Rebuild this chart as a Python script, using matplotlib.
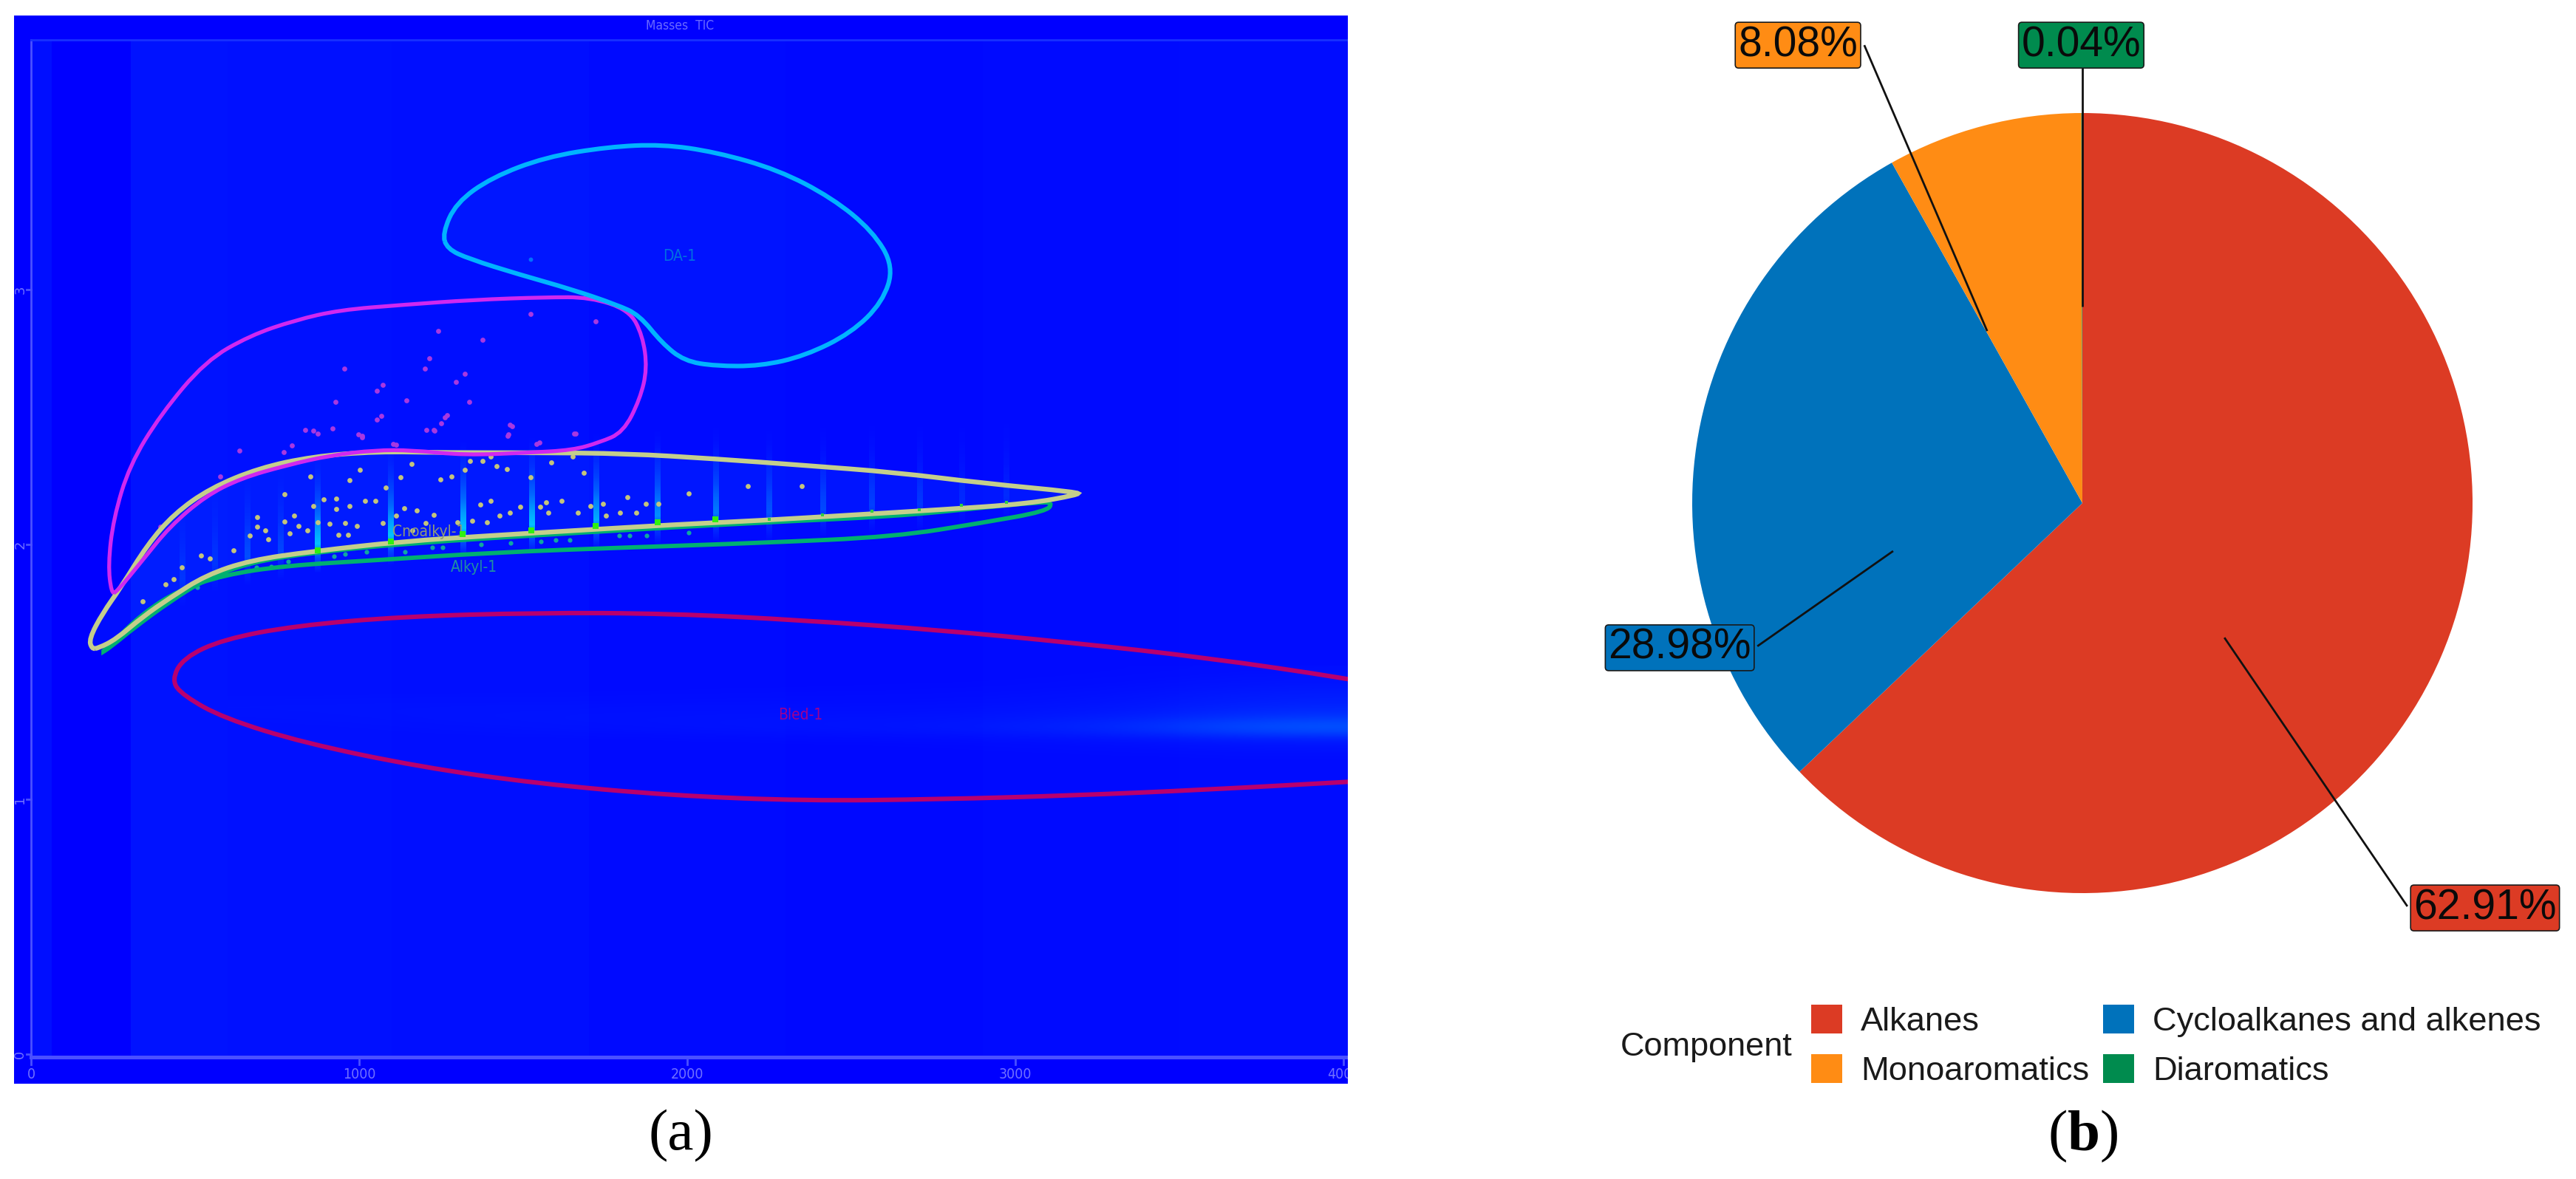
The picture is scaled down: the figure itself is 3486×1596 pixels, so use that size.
import numpy as np
import matplotlib
matplotlib.use('Agg')
import matplotlib.pyplot as plt
from matplotlib.colors import LinearSegmentedColormap
from matplotlib.patches import Patch, PathPatch
from matplotlib.path import Path

plt.rcParams['mathtext.fontset'] = 'custom'
plt.rcParams['mathtext.rm'] = 'Liberation Serif'
plt.rcParams['mathtext.bf'] = 'Liberation Serif:bold'

W, H = 3486, 1596

# panel a: 2D chromatogram, x = 1st dimension, y = 2nd dimension
x_ticks = [0, 1000, 2000, 3000, 4000]
y_ticks = [0, 1, 2, 3]

bg_edges = [-52, 0, 62, 305, 600, 1100, 1700, 2300, 2900, 3500, 4014]
bg_green = [0, 14, 0, 18, 16, 14, 10, 8, 10, 12]

da_x = [1254, 1295, 1404, 1568, 1759, 1923, 2086, 2277, 2441, 2565, 2630, 2595, 2500, 2359, 2223, 2086, 1991, 1923, 1854, 1786, 1650, 1486, 1336, 1268]
da_y = [3.22, 3.34, 3.44, 3.52, 3.56, 3.57, 3.54, 3.47, 3.36, 3.23, 3.09, 2.95, 2.83, 2.74, 2.70, 2.70, 2.72, 2.79, 2.90, 2.94, 3.00, 3.06, 3.12, 3.16]

cyclo_x = [245, 235, 251, 300, 395, 532, 668, 805, 941, 1132, 1350, 1568, 1704, 1823, 1864, 1878, 1856, 1805, 1732, 1650, 1513, 1323, 1159, 1050, 914, 777, 641, 532, 423, 341, 259]
cyclo_y = [1.81, 1.92, 2.10, 2.31, 2.51, 2.72, 2.82, 2.88, 2.92, 2.94, 2.96, 2.97, 2.97, 2.92, 2.82, 2.69, 2.57, 2.44, 2.40, 2.37, 2.36, 2.35, 2.37, 2.37, 2.35, 2.31, 2.26, 2.19, 2.07, 1.94, 1.81]

alk_x = [185, 177, 218, 273, 355, 436, 545, 695, 859, 1050, 1268, 1541, 1813, 2086, 2359, 2632, 2904, 3191, 3191, 3041, 2768, 2495, 2223, 1950, 1677, 1404, 1132, 859, 668, 532, 423, 341, 259, 205]
alk_y = [1.59, 1.63, 1.73, 1.83, 2.00, 2.12, 2.22, 2.30, 2.345, 2.365, 2.36, 2.36, 2.357, 2.336, 2.31, 2.283, 2.24, 2.205, 2.195, 2.16, 2.136, 2.115, 2.094, 2.077, 2.056, 2.035, 2.012, 1.973, 1.938, 1.879, 1.79, 1.717, 1.628, 1.593]

mono_x = [210, 245, 341, 450, 586, 777, 1050, 1404, 1813, 2223, 2632, 2904, 3095, 3114, 3068, 2904, 2632, 2223, 1677, 1132, 859, 668, 532, 423, 314, 245]
mono_y = [1.57, 1.61, 1.73, 1.82, 1.88, 1.917, 1.938, 1.968, 1.988, 2.006, 2.03, 2.086, 2.13, 2.165, 2.165, 2.145, 2.11, 2.086, 2.047, 2.003, 1.968, 1.93, 1.864, 1.776, 1.673, 1.60]

bleed_x = [428, 464, 586, 805, 1132, 1541, 1950, 2359, 2768, 3177, 3586, 4009, 4404, 4404, 4009, 3586, 3177, 2768, 2359, 1950, 1541, 1186, 832, 586, 464]
bleed_y = [1.466, 1.555, 1.628, 1.681, 1.717, 1.732, 1.729, 1.702, 1.664, 1.614, 1.555, 1.475, 1.386, 1.097, 1.068, 1.038, 1.015, 1.0, 0.994, 1.015, 1.062, 1.127, 1.221, 1.319, 1.407]

alk_dot_x = [772, 851, 892, 931, 970, 1002, 970, 931, 860, 1019, 1050, 1082, 1125, 1161, 1137, 1176, 1247, 1282, 1321, 1338, 1376, 1402, 1418, 1450, 1370, 1402, 1522, 1585, 1651, 1684, 1570, 1618, 1818, 1873, 1912, 2005, 1744, 1705, 690, 690, 772, 666, 714, 724, 618, 518, 546, 460, 434, 411, 341, 802, 815, 789, 843, 873, 909, 957, 993, 937, 967, 1073, 1228, 1344, 1389, 1428, 1460, 1492, 1551, 1576, 1667, 1796, 1844, 1753, 1112, 1163, 1202, 1299, 2184, 2350]
alk_dot_y = [2.196, 2.266, 2.176, 2.181, 2.251, 2.292, 2.151, 2.139, 2.151, 2.171, 2.171, 2.223, 2.264, 2.315, 2.142, 2.132, 2.254, 2.266, 2.292, 2.328, 2.328, 2.344, 2.308, 2.296, 2.156, 2.171, 2.264, 2.323, 2.344, 2.282, 2.166, 2.171, 2.186, 2.158, 2.158, 2.200, 2.158, 2.151, 2.107, 2.070, 2.090, 2.034, 2.056, 2.019, 1.978, 1.956, 1.946, 1.910, 1.863, 1.843, 1.777, 2.112, 2.073, 2.044, 2.054, 2.088, 2.080, 2.083, 2.073, 2.039, 2.039, 2.083, 2.117, 2.093, 2.086, 2.112, 2.125, 2.147, 2.147, 2.125, 2.125, 2.125, 2.125, 2.112, 2.112, 2.054, 2.083, 2.088, 2.23, 2.23]

mono_dot_x = [923, 958, 1023, 1139, 1223, 1255, 1372, 1462, 1553, 1598, 1643, 1792, 1824, 1876, 2005, 687, 732, 784, 577, 506, 454]
mono_dot_y = [1.953, 1.962, 1.972, 1.972, 1.987, 1.987, 2.001, 2.006, 2.011, 2.016, 2.016, 2.035, 2.035, 2.035, 2.045, 1.909, 1.914, 1.933, 1.875, 1.832, 1.808]

cyclo_dot_x = [1522, 1721, 1241, 1377, 954, 1200, 1323, 1213, 1295, 1072, 1055, 927, 1145, 1336, 1262, 1227, 1459, 1453, 1655, 1009, 1104, 395, 1541, 835, 861, 874, 997, 1010, 1055, 1068, 1204, 1230, 1249, 1268, 1456, 1466, 1550, 1660, 919, 635, 577, 796, 771, 1113]
cyclo_dot_y = [2.903, 2.876, 2.838, 2.802, 2.690, 2.690, 2.670, 2.729, 2.637, 2.625, 2.602, 2.558, 2.566, 2.558, 2.499, 2.448, 2.469, 2.425, 2.434, 2.425, 2.395, 2.071, 2.395, 2.450, 2.445, 2.436, 2.431, 2.421, 2.489, 2.503, 2.450, 2.445, 2.474, 2.508, 2.431, 2.465, 2.399, 2.436, 2.455, 2.368, 2.267, 2.387, 2.363, 2.392]

peak_x = [460, 560, 660, 760, 873, 1096, 1316, 1525, 1721, 1909, 2086, 2250, 2413, 2563, 2708, 2836, 2972]
peak_y = [1.84, 1.90, 1.93, 1.95, 1.977, 2.011, 2.040, 2.054, 2.072, 2.088, 2.10, 2.10, 2.115, 2.13, 2.135, 2.153, 2.165]
peak_level = [0.15, 0.15, 0.3, 0.25, 0.9, 0.9, 0.9, 0.9, 0.8, 0.65, 0.55, 0.35, 0.3, 0.25, 0.2, 0.12, 0.12]
# streak brightness from 0.12 below the peak to 0.4 above it
streak_profile = [[0.0], [0.35], [1.0], [0.8], [0.5], [0.3], [0.15], [0.05], [0.0]][::-1]

bleed_cols = [600, 1200, 1800, 2400, 2800, 3200, 3600, 4014]
bleed_rows = [1.525, 1.125]
bleed_alpha = [
    [0, 0, 0, 0, 0, 0, .01, .03],
    [0, 0, 0, 0, .01, .01, .03, .08],
    [0, .01, .01, .02, .02, .03, .06, .14],
    [.04, .04, .04, .05, .05, .06, .10, .22],
    [.02, .05, .07, .07, .08, .09, .16, .36],
    [0, .02, .05, .08, .11, .16, .34, .80],
    [0, 0, 0, .01, .02, .03, .06, .12],
    [0, 0, 0, 0, 0, .01, .02, .04],
    [0, 0, 0, 0, 0, 0, 0, 0],
]

# panel b: pie chart
components = ['Alkanes', 'Cycloalkanes and alkenes', 'Monoaromatics', 'Diaromatics']
shares = [62.91, 28.98, 8.08, 0.04]
share_labels = ['62.91%', '28.98%', '8.08%', '0.04%']
colors = ['#DC3B24', '#0072BB', '#FF8C14', '#008B4E']
label_x = [1.032, -1.032, -0.729, -0.003]
label_y = [-1.038, -0.371, 1.174, 1.174]
leader_from_x = [0.364, -0.485, -0.244, 0.0]
leader_from_y = [-0.345, -0.123, 0.441, 0.504]
leader_to_x = [0.833, -0.833, -0.559, 0.0]
leader_to_y = [-1.034, -0.367, 1.174, 1.123]


def px_axes(fig, left, top, right, bottom):
    return fig.add_axes([left / W, 1 - bottom / H, (right - left) / W, (bottom - top) / H])


def smooth_patch(xs, ys, **kw):
    # closed quadratic curve through the midpoints of the read points
    pts = np.column_stack([xs, ys])
    mids = (pts + np.roll(pts, -1, axis=0)) / 2
    verts = [mids[-1]]
    codes = [Path.MOVETO]
    for p, m in zip(pts, mids):
        verts += [p, m]
        codes += [Path.CURVE3, Path.CURVE3]
    return PathPatch(Path(verts, codes), **kw)


fig = plt.figure(figsize=(W / 100, H / 100), dpi=100, facecolor='white')

# --- panel a ---
ax = px_axes(fig, 19, 21, 1824, 1467)
ax.set_facecolor('#0000FF')
ax.set_xticks([])
ax.set_yticks([])
for s in ax.spines.values():
    s.set_visible(False)

bg_cmap = LinearSegmentedColormap.from_list('bg', ['#0000FF', '#0020FF'])
ax.pcolormesh(bg_edges, [-0.012, 3.98], [bg_green], cmap=bg_cmap, vmin=0, vmax=32)

ax.imshow(bleed_alpha, extent=[bleed_cols[0], bleed_cols[-1], bleed_rows[-1], bleed_rows[0]],
          cmap=LinearSegmentedColormap.from_list('bl', [(0, 0.47, 1, 0), (0, 0.47, 1, 1)]),
          vmin=0, vmax=1, interpolation='bicubic', aspect='auto', zorder=1)

ax.add_patch(smooth_patch(da_x, da_y, fc=(0, 0.3, 1, 0.14), ec='none', zorder=1))
ax.add_patch(smooth_patch(alk_x, alk_y, fc=(0, 0.5, 1, 0.10), ec='none', zorder=1))

streak_cmap = LinearSegmentedColormap.from_list('st', [(0, 0.75, 1, 0), (0, 0.85, 1, 1)])
for px, py, lvl in zip(peak_x, peak_y, peak_level):
    ax.imshow(np.array(streak_profile) * lvl, extent=[px - 8, px + 8, py - 0.12, py + 0.4],
              cmap=streak_cmap, vmin=0, vmax=1, interpolation='bilinear', aspect='auto', zorder=2)

ax.scatter(alk_dot_x, alk_dot_y, s=24, marker='o', color='#C4C47C', linewidths=0, zorder=3)
ax.scatter(mono_dot_x, mono_dot_y, s=20, marker='o', color='#10A8A0', linewidths=0, zorder=3)
ax.scatter(cyclo_dot_x, cyclo_dot_y, s=24, marker='o', color='#A838E0', linewidths=0, zorder=3)
ax.scatter([1522], [3.118], s=18, color='#0070FF', linewidths=0, zorder=3)

ax.add_patch(smooth_patch(bleed_x, bleed_y, fc='none', ec='#B8006E', lw=4.4, zorder=4))
ax.add_patch(smooth_patch(mono_x, mono_y, fc='none', ec='#00B070', lw=4.2, zorder=4))
ax.add_patch(smooth_patch(alk_x, alk_y, fc='none', ec='#C4CE8C', lw=4.6, zorder=5))
ax.add_patch(smooth_patch(cyclo_x, cyclo_y, fc='none', ec='#D028F0', lw=3.8, zorder=6))
ax.add_patch(smooth_patch(da_x, da_y, fc='none', ec='#00B4FF', lw=4.4, zorder=7))
ax.scatter(peak_x[4:11], peak_y[4:11], s=30, marker='s', color='#30F010', linewidths=0, zorder=6)
ax.scatter(peak_x[11:], peak_y[11:], s=12, marker='s', color='#30D040', linewidths=0, zorder=6)

ax.text(1977, 3.13, 'DA-1', color='#0070E0', fontsize=15, ha='center', va='center', stretch='condensed')
ax.text(2345, 1.33, 'Bled-1', color='#A00090', fontsize=15, ha='center', va='center', stretch='condensed')
ax.text(1213, 2.05, 'Cnoalkyl-1', color='#8F9A78', fontsize=15, ha='center', va='center', zorder=5, stretch='condensed')
ax.text(1350, 1.91, 'Alkyl-1', color='#2090A0', fontsize=15, ha='center', va='center', stretch='condensed')

axis_col = '#4A50FF'
ax.plot([0, 4014], [-0.012, -0.012], color=axis_col, lw=3.6, zorder=8)
ax.plot([0, 0], [-0.012, 3.98], color=axis_col, lw=2, zorder=8)
ax.plot([0, 4014], [3.98, 3.98], color='#1830FF', lw=2, zorder=8)
for t in x_ticks:
    ax.plot([t, t], [-0.012, -0.04], color=axis_col, lw=2, zorder=8, clip_on=True)
    ax.text(t, -0.081, str(t), color='#7070FF', fontsize=14, ha='center', va='center', clip_on=True, stretch='condensed')
for t in y_ticks:
    ax.plot([-14, 0], [t, t], color=axis_col, lw=2, zorder=8)
    ax.text(-33, t, str(t), color='#7070FF', fontsize=13, rotation=90, ha='center', va='center', clip_on=True)
ax.text(1977, 4.035, 'Masses  TIC', color='#6A6AFF', fontsize=12.5, ha='center', va='center', stretch='condensed')

ax.set_xlim((19 - 42) / 0.444, (1824 - 42) / 0.444)
ax.set_ylim((1427 - 1467) / 345, (1427 - 21) / 345)

# --- panel b ---
cx, cy, r = 2818, 681, 528
pie_l, pie_r, pie_t, pie_b = 2100, 3486, 0, 1340
ax2 = px_axes(fig, pie_l, pie_t, pie_r, pie_b)
ax2.pie(shares, colors=colors, startangle=90, counterclock=False, radius=1,
        wedgeprops={'linewidth': 0})
ax2.set_xlim((pie_l - cx) / r, (pie_r - cx) / r)
ax2.set_ylim((cy - pie_b) / r, (cy - pie_t) / r)

for i in range(len(shares)):
    ax2.plot([leader_from_x[i], leader_to_x[i]], [leader_from_y[i], leader_to_y[i]],
             color='#111111', lw=2, zorder=5, solid_capstyle='butt')
    ax2.text(label_x[i], label_y[i], share_labels[i], fontsize=41, family='Liberation Sans',
             color='#0A0A0A', ha='center', va='center', zorder=6,
             bbox=dict(boxstyle='round,pad=0.07,rounding_size=0.08', fc=colors[i], ec='#1A1A1A', lw=1.2))

order = [0, 2, 1, 3]
handles = [Patch(fc=colors[i], ec='none', label=components[i]) for i in order]
leg = fig.legend(handles=handles, loc='lower left', bbox_to_anchor=(2451 / W, 1 - 1471 / H), ncols=2,
                 frameon=False, prop={'family': 'Liberation Sans', 'size': 32.6},
                 handlelength=0.93, handleheight=0.95, handletextpad=0.55,
                 columnspacing=0.42, labelspacing=0.5, borderpad=0, borderaxespad=0)
for t in leg.get_texts():
    t.set_color('#1A1A1A')
fig.text(2193 / W, 1 - 1417 / H, 'Component', fontsize=32.5, family='Liberation Sans',
         color='#1A1A1A', ha='left', va='center')

# captions
fig.text(921 / W, 1 - 1538 / H, '(a)', fontsize=57, family='Liberation Serif', ha='center', va='center', color='black')
fig.text(2819 / W, 1 - 1538 / H, r'($\mathbf{b}$)', fontsize=57, family='Liberation Serif',
         ha='center', va='center', color='black')

fig.savefig('out.png', dpi=100, facecolor='white')
